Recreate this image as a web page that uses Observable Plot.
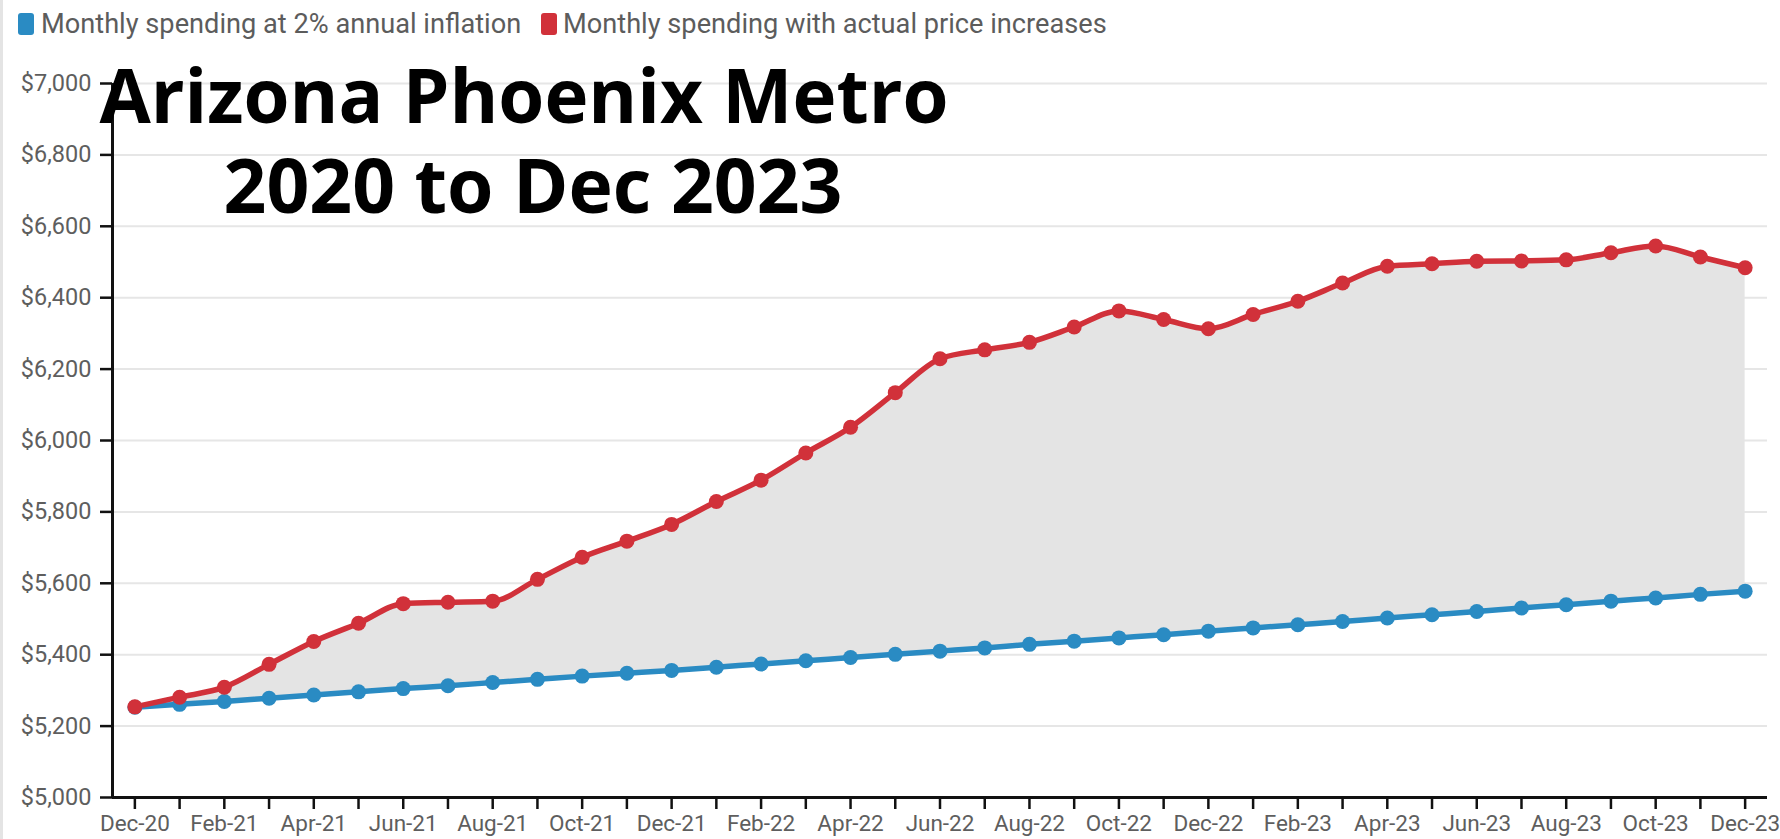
<!DOCTYPE html>
<html>
<head>
<meta charset="utf-8">
<script src="https://cdn.jsdelivr.net/npm/d3@7"></script>
<script src="https://cdn.jsdelivr.net/npm/@observablehq/plot@0.6"></script>
<style>
  html, body { margin: 0; padding: 0; background: #fff; }
  #wrap { position: relative; width: 1780px; height: 839px; overflow: hidden; background: #fff; }
  #edge { position: absolute; left: 0; top: 0; width: 3px; height: 839px; background: #e4e4e4; }
  #legend { position: relative; height: 48px; font-family: Roboto, sans-serif; font-size: 27.2px; color: #5c5c5c; }
  .sw { position: absolute; top: 13px; width: 16px; height: 22px; border-radius: 3px; }
  .lt { position: absolute; top: 8px; line-height: 32px; white-space: nowrap; }
  .tl { position: absolute; left: 0; width: 1054px; text-align: center; white-space: nowrap;
        font-family: "Open Sans", sans-serif; font-weight: 700; font-size: 75px; line-height: 70px; color: #000; }
  #chart { position: absolute; left: 0; top: 48px; }
</style>
</head>
<body>
<div id="wrap">
  <div id="edge"></div>
  <div id="legend"></div>
  <div id="chart"></div>
  <div class="tl" style="top:59px;left:-3px;font-size:74.4px">Arizona Phoenix Metro</div>
  <div class="tl" style="top:149px;left:6px">2020 to Dec 2023</div>
</div>
<script>
const months = ["Dec-20","Jan-21","Feb-21","Mar-21","Apr-21","May-21","Jun-21","Jul-21","Aug-21","Sep-21","Oct-21","Nov-21",
  "Dec-21","Jan-22","Feb-22","Mar-22","Apr-22","May-22","Jun-22","Jul-22","Aug-22","Sep-22","Oct-22","Nov-22",
  "Dec-22","Jan-23","Feb-23","Mar-23","Apr-23","May-23","Jun-23","Jul-23","Aug-23","Sep-23","Oct-23","Nov-23","Dec-23"];

const spendingAt2pct = [5253,5261,5269,5278,5287,5296,5305,5313,5322,5331,5340,5348,
  5356,5365,5374,5383,5392,5401,5410,5419,5429,5438,5447,5456,
  5466,5475,5484,5493,5503,5512,5521,5531,5540,5550,5559,5569,5578];

const spendingActual = [5254,5281,5309,5373,5437,5488,5543,5547,5550,5611,5673,5718,
  5765,5829,5889,5965,6037,6134,6229,6254,6275,6318,6363,6339,
  6313,6353,6390,6441,6488,6495,6502,6503,6506,6526,6545,6514,6484];

const yTicks = [5000,5200,5400,5600,5800,6000,6200,6400,6600,6800,7000];

const seriesNames = ["Monthly spending at 2% annual inflation", "Monthly spending with actual price increases"];
const seriesColors = ["#2a8bc3", "#d1313a"];

// legend
const legend = document.getElementById("legend");
const legendPos = [[18, 41], [541, 563]];
seriesNames.forEach((name, k) => {
  const sw = document.createElement("div");
  sw.className = "sw"; sw.style.left = legendPos[k][0] + "px"; sw.style.background = seriesColors[k];
  legend.appendChild(sw);
  const t = document.createElement("div");
  t.className = "lt"; t.style.left = legendPos[k][1] + "px"; t.textContent = name;
  legend.appendChild(t);
});

const rows = months.map((m, i) => ({i, month: m, base: spendingAt2pct[i], actual: spendingActual[i]}));
const monthIdx = months.map((_, i) => i);
const xDomain = [-0.5, months.length - 0.5];

const chart = Plot.plot({
  width: 1780,
  height: 791,
  marginLeft: 112,
  marginRight: 13,
  marginTop: 35,
  marginBottom: 42,
  style: {fontFamily: "Roboto, sans-serif", background: "transparent", overflow: "visible"},
  x: {type: "linear", domain: xDomain},
  y: {domain: [5000, 7000]},
  marks: [
    Plot.gridY(yTicks, {stroke: "#e6e6e6", strokeOpacity: 1, strokeWidth: 2}),
    Plot.areaY(rows, {x: "i", y1: "base", y2: "actual", fill: "#e4e4e4", curve: "monotone-x"}),
    Plot.line(rows, {x: "i", y: "base", stroke: seriesColors[0], strokeWidth: 5.5, curve: "monotone-x"}),
    Plot.line(rows, {x: "i", y: "actual", stroke: seriesColors[1], strokeWidth: 5.5, curve: "monotone-x"}),
    Plot.dot(rows, {x: "i", y: "base", r: 7.5, fill: seriesColors[0], stroke: "none"}),
    Plot.dot(rows, {x: "i", y: "actual", r: 7.5, fill: seriesColors[1], stroke: "none"}),
    Plot.axisY(yTicks, {tickSize: 12, tickPadding: 9, tickFormat: d => "$" + d3.format(",")(d),
      fontSize: 23.5, fill: "#5e5e5e", stroke: "#111", strokeWidth: 2.5, label: null}),
    Plot.axisX(monthIdx, {tickSize: 12, tickPadding: 6, tickFormat: i => i % 2 === 0 ? months[i] : "",
      fontSize: 22.5, fill: "#5e5e5e", stroke: "#111", strokeWidth: 2.5, label: null}),
    Plot.ruleY([5000], {stroke: "#111", strokeWidth: 3}),
    Plot.ruleX([xDomain[0]], {stroke: "#111", strokeWidth: 3})
  ]
});
document.getElementById("chart").appendChild(chart);
</script>
</body>
</html>
